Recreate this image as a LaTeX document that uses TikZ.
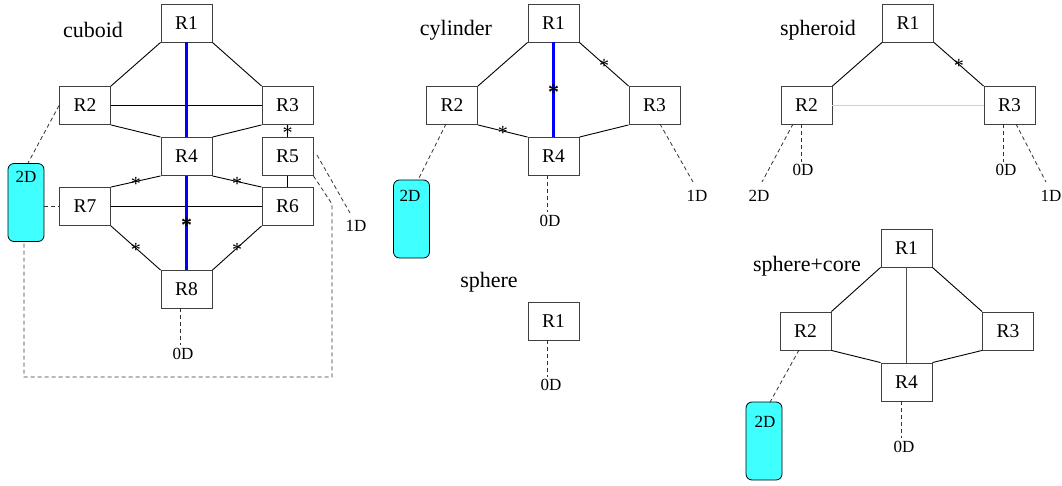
\documentclass[tikz,border=0pt]{standalone}
\usepackage{fontspec}
\setmainfont{Liberation Serif}
\definecolor{aqua}{RGB}{64,255,255}
\begin{document}
\begin{tikzpicture}[x=1pt,y=-1pt,
  rbox/.style={draw=black!75,line width=0.9pt,minimum width=51pt,minimum height=38pt,inner sep=0pt,font=\fontsize{19.5}{20}\selectfont},
  dbox/.style={draw=black,fill=aqua,line width=0.8pt,rounded corners=6pt,minimum width=36pt,minimum height=78pt,inner sep=0pt},
  title/.style={inner sep=0pt,font=\fontsize{22}{24}\selectfont},
  small/.style={inner sep=0pt,font=\fontsize{17}{18}\selectfont},
  edge/.style={line width=0.9pt},
  core/.style={draw=blue,line width=3pt},
  dsh/.style={line width=0.8pt,black!80,dash pattern=on 4pt off 3pt},
  astk/.style={inner sep=0pt,anchor=base,yshift=-8.5pt,font=\fontsize{20}{20}\selectfont},
  bigastk/.style={inner sep=0pt,anchor=base,yshift=-9.5pt,font=\bfseries\fontsize{22}{22}\selectfont},
]
\useasboundingbox (0,0) rectangle (1062,485);

% ---------------- cuboid ----------------
\node[title] (tcub) at (93,30) {cuboid};
\node[rbox] (c1) at (186.5,23) {R1};
\node[rbox] (c2) at (85,105.5) {R2};
\node[rbox] (c3) at (287.5,105.5) {R3};
\node[rbox] (c4) at (186.5,156.5) {R4};
\node[rbox] (c5) at (287.5,156.5) {R5};
\node[rbox] (c7) at (85,206.5) {R7};
\node[rbox] (c6) at (287.5,206.5) {R6};
\node[rbox] (c8) at (186.5,289.5) {R8};
\node[dbox] (cdb) at (26,202.5) {};
\node[small] (cdl) at (26,177) {2D};
\node[small] (c0d) at (183,353.5) {0D};
\node[small] (c1d) at (356,226) {1D};

\draw[edge] (c1.south west) -- (c2.north east);
\draw[edge] (c1.south east) -- (c3.north west);
\draw[edge] (c2.east) -- (c3.west);
\draw[edge] (c2.south east) -- (c4.north west);
\draw[edge] (c3.south west) -- (c4.north east);
\draw[edge] (c3.south) -- node[astk] (ca1) {*} (c5.north);
\draw[edge] (c4.south west) -- node[astk] (ca2) {*} (c7.north east);
\draw[edge] (c4.south east) -- node[astk] (ca3) {*} (c6.north west);
\draw[edge] (c5.south) -- (c6.north);
\draw[edge] (c7.east) -- (c6.west);
\draw[edge] (c7.south east) -- node[astk] (ca4) {*} (c8.north west);
\draw[edge] (c6.south west) -- node[astk] (ca5) {*} (c8.north east);
\draw[core] (c1.south) -- (c4.north);
\draw[core] (c4.south) -- node[bigastk] (ca6) {*} (c8.north);

\coordinate (cq1) at (28,163);
\coordinate (cq2) at (332,204);
\coordinate (cq3) at (332,377);
\coordinate (cq4) at (24,377);
\coordinate (cq5) at (317,155);
\coordinate (cq6) at (350,213);
\coordinate (cq7) at (180,308);
\coordinate (cq8) at (180,345);
\draw[dsh] (c2.west) -- (cq1);
\draw[dsh] (cdb.east |- c7.west) -- (c7.west);
\draw[dsh] (c5.south east) -- (cq2) -- (cq3) -- (cq4) -- (cq4 |- cdb.south);
\draw[dsh] (cq5) -- (cq6);
\draw[dsh] (cq7) -- (cq8);

% ---------------- cylinder ----------------
\node[title] (tcyl) at (456,30) {cylinder};
\node[rbox] (y1) at (553.5,23) {R1};
\node[rbox] (y2) at (452,105.5) {R2};
\node[rbox] (y3) at (654.5,105.5) {R3};
\node[rbox] (y4) at (553.5,156.5) {R4};
\node[dbox] (ydb) at (411.5,219) {};
\node[small] (ydl) at (410,196) {2D};
\node[small] (y0d) at (550,221) {0D};
\node[small] (y1d) at (697,196) {1D};

\draw[edge] (y1.south west) -- (y2.north east);
\draw[edge] (y1.south east) -- node[astk] (ya1) {*} (y3.north west);
\draw[edge] (y2.south east) -- node[astk] (ya2) {*} (y4.north west);
\draw[edge] (y3.south west) -- (y4.north east);
\draw[core] (y1.south) -- node[bigastk] (ya3) {*} (y4.north);

\coordinate (yq1) at (446,124);
\coordinate (yq2) at (418,180);
\coordinate (yq3) at (547,175);
\coordinate (yq4) at (547,212);
\coordinate (yq5) at (660,124);
\coordinate (yq6) at (693,182);
\draw[dsh] (yq1) -- (yq2);
\draw[dsh] (yq3) -- (yq4);
\draw[dsh] (yq5) -- (yq6);

% ---------------- spheroid ----------------
\node[title] (tsph) at (818,30) {spheroid};
\node[rbox] (s1) at (908,23) {R1};
\node[rbox] (s2) at (806.5,105.5) {R2};
\node[rbox] (s3) at (1009.5,105.5) {R3};
\node[small] (s2d) at (759,196) {2D};
\node[small] (s0a) at (803,170) {0D};
\node[small] (s0b) at (1006,170) {0D};
\node[small] (s1d) at (1051,196) {1D};

\draw[edge] (s1.south west) -- (s2.north east);
\draw[edge] (s1.south east) -- node[astk] (sa1) {*} (s3.north west);
\draw[line width=0.7pt,black!18] (s2.east) -- (s3.west);

\coordinate (sq1) at (793,124);
\coordinate (sq2) at (762,182);
\coordinate (sq3) at (801,124);
\coordinate (sq4) at (801,162);
\coordinate (sq5) at (1003,124);
\coordinate (sq6) at (1003,162);
\coordinate (sq7) at (1016,124);
\coordinate (sq8) at (1046,182);
\draw[dsh] (sq1) -- (sq2);
\draw[dsh] (sq3) -- (sq4);
\draw[dsh] (sq5) -- (sq6);
\draw[dsh] (sq7) -- (sq8);

% ---------------- sphere ----------------
\node[title] (tsp) at (489,282) {sphere};
\node[rbox] (p1) at (553.5,321) {R1};
\node[small] (p0d) at (551,385) {0D};
\coordinate (pq1) at (547,340);
\coordinate (pq2) at (547,377);
\draw[dsh] (pq1) -- (pq2);

% ---------------- sphere+core ----------------
\node[title] (tspc) at (807,266) {sphere+core};
\node[rbox] (k1) at (906.5,248) {R1};
\node[rbox] (k2) at (805.5,331) {R2};
\node[rbox] (k3) at (1008,331) {R3};
\node[rbox] (k4) at (906.5,382) {R4};
\node[dbox] (kdb) at (764,441) {};
\node[small] (kdl) at (765,422) {2D};
\node[small] (k0d) at (904,447) {0D};

\draw[edge] (k1.south west) -- (k2.north east);
\draw[edge] (k1.south east) -- (k3.north west);
\draw[edge] (k2.south east) -- (k4.north west);
\draw[edge] (k3.south west) -- (k4.north east);
\draw[line width=1.2pt,black!70] (k1.south) -- (k4.north);

\coordinate (kq1) at (799,350);
\coordinate (kq2) at (769,404);
\coordinate (kq3) at (901,401);
\coordinate (kq4) at (901,438);
\draw[dsh] (kq1) -- (kq2);
\draw[dsh] (kq3) -- (kq4);
\end{tikzpicture}
\end{document}
